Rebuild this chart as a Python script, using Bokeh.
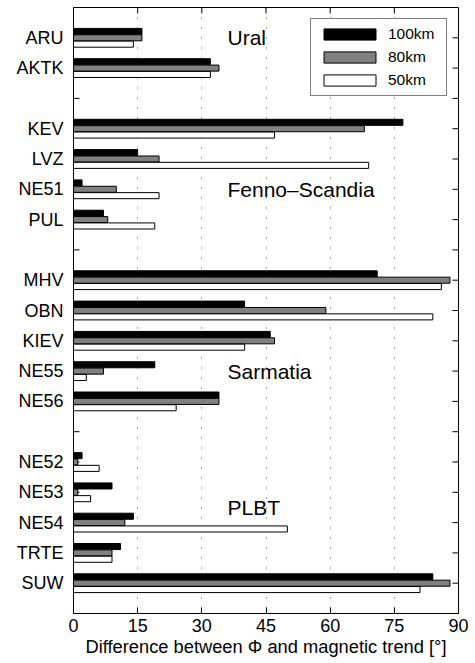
import math
from bokeh.plotting import figure
from bokeh.models import (Range1d, FixedTicker, Legend, LegendItem,
                          Label, ColumnDataSource)
from bokeh.embed import file_html
from bokeh.resources import INLINE

# ---- data ----
stations = ["ARU", "AKTK", "KEV", "LVZ", "NE51", "PUL", "MHV", "OBN", "KIEV",
            "NE55", "NE56", "NE52", "NE53", "NE54", "TRTE", "SUW"]
row_index = [1, 2, 4, 5, 6, 7, 9, 10, 11, 12, 13, 15, 16, 17, 18, 19]
gap_index = [3, 8, 14]
v100 = [16, 32, 77, 15, 2, 7, 71, 40, 46, 19, 34, 2, 9, 14, 11, 84]
v80 = [16, 34, 68, 20, 10, 8, 88, 59, 47, 7, 34, 1, 1, 12, 9, 88]
v50 = [14, 32, 47, 69, 20, 19, 86, 84, 40, 3, 24, 6, 4, 50, 9, 81]
series_names = ["100km", "80km", "50km"]
regions = ["Ural", "Fenno–Scandia", "Sarmatia", "PLBT"]
region_x = [36, 36, 36, 36]
region_row = [1, 6, 12, 16.5]
x_ticks = [0, 15, 30, 45, 60, 75, 90]
x_label = "Difference between Φ and magnetic trend [°]"

FONT = "Liberation Sans"
X_MIN, X_MAX = 0, 90
Y_TOP, Y_BOTTOM = 0, 20

p = figure(width=475, height=663, output_backend="svg", toolbar_location=None,
           x_range=Range1d(X_MIN, X_MAX), y_range=Range1d(Y_BOTTOM, Y_TOP),
           min_border_left=73, min_border_right=17, min_border_top=7,
           min_border_bottom=50)
p.background_fill_color = "white"
p.border_fill_color = "white"
p.outline_line_color = "black"
p.outline_line_width = 1

all_rows = list(range(Y_TOP + 1, Y_BOTTOM))

# grid
p.xgrid.ticker = FixedTicker(ticks=x_ticks[1:-1])
p.xgrid.grid_line_color = "#555555"
p.xgrid.grid_line_dash = "1 9"
p.xgrid.grid_line_width = 1
p.ygrid.visible = False

# inward ticks on the left (under bars), right and top
TICK = 6
p.ray(x=[X_MIN] * len(all_rows), y=all_rows, length=TICK, length_units="screen",
      angle=0, line_color="black", line_width=1)
p.ray(x=[X_MAX] * len(all_rows), y=all_rows, length=TICK, length_units="screen",
      angle=math.pi, line_color="black", line_width=1)
p.ray(x=x_ticks, y=[Y_TOP] * len(x_ticks), length=TICK, length_units="screen",
      angle=-math.pi / 2, line_color="black", line_width=1)

# bars
bar_h = 0.2
offs = [-0.21, 0.0, 0.21]
fills = ["black", "#808080", "white"]
rends = []
for vals, off, fc in zip([v100, v80, v50], offs, fills):
    src = ColumnDataSource(dict(y=[r + off for r in row_index], right=vals))
    r = p.hbar(y="y", left=0, right="right", height=bar_h, source=src,
               fill_color=fc, line_color="black", line_width=1)
    rends.append(r)

# axes
xa = p.xaxis[0]
xa.ticker = FixedTicker(ticks=x_ticks)
ya = p.yaxis[0]
ya.ticker = FixedTicker(ticks=row_index)
ya.major_label_overrides = {r: s for r, s in zip(row_index, stations)}
ya.major_tick_line_color = None

for ax in (xa, ya):
    ax.major_tick_in = TICK
    ax.major_tick_out = 0
    ax.minor_tick_line_color = None
    ax.axis_line_color = "black"
    ax.major_label_text_font = FONT
    ax.major_label_text_font_size = "18px"
    ax.major_label_text_color = "black"
xa.major_tick_line_color = "black"
xa.major_label_standoff = 5
ya.major_label_standoff = 10

xa.axis_label = x_label
xa.axis_label_text_font = FONT
xa.axis_label_text_font_size = "18.3px"
xa.axis_label_text_font_style = "normal"
xa.axis_label_text_color = "black"
xa.axis_label_standoff = 1

# region labels
for txt, rx, ry in zip(regions, region_x, region_row):
    p.add_layout(Label(x=rx, y=ry, text=txt, text_baseline="middle", text_align="left",
                       text_font=FONT, text_font_size="21px", text_color="black"))

# legend
legend = Legend(items=[LegendItem(label=n, renderers=[r]) for n, r in zip(series_names, rends)],
                location="top_right", margin=11, padding=6, spacing=5,
                glyph_width=65, glyph_height=14, label_height=14, label_standoff=6,
                label_width=52,
                label_text_font=FONT, label_text_font_size="15.5px",
                label_text_color="black",
                border_line_color="black", border_line_width=1,
                background_fill_color="white", background_fill_alpha=1.0)
p.add_layout(legend)

open("out.html", "w").write(file_html(p, INLINE))
